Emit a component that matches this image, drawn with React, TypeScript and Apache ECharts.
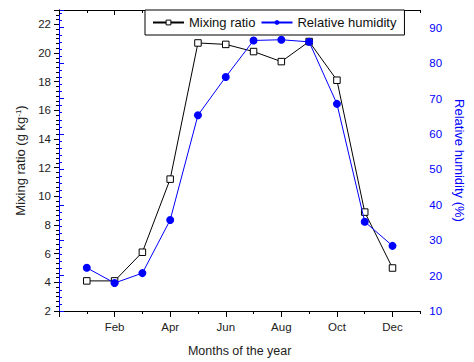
import React, { useEffect, useRef } from "react";
import * as echarts from "echarts";

const monthNames = ["Jan", "Feb", "Mar", "Apr", "May", "Jun", "Jul", "Aug", "Sep", "Oct", "Nov", "Dec"];
const monthNumbers = [1, 2, 3, 4, 5, 6, 7, 8, 9, 10, 11, 12];
const mixingRatio = [4.1, 4.1, 6.1, 11.2, 20.7, 20.6, 20.1, 19.4, 20.8, 18.1, 8.9, 5.0];
const relativeHumidity = [22.2, 17.9, 20.7, 35.7, 65.3, 76.1, 86.4, 86.6, 86.0, 68.5, 35.2, 28.4];

const FONT = "Liberation Sans";
const BLUE = "#0000ff";

export default function App() {
  const ref = useRef<HTMLDivElement>(null);
  useEffect(() => {
    document.body.style.margin = "0";
    if (!ref.current) return;
    const chart = echarts.init(ref.current, null, { renderer: "svg" });
    const base = { min: 0, max: 13, type: "value" as const };
    chart.setOption({
      animation: false,
      backgroundColor: "#ffffff",
      textStyle: { fontFamily: FONT },
      grid: { left: 59, right: 43, top: 10, bottom: 50, containLabel: false },
      legend: {
        left: 145,
        top: 10,
        itemWidth: 31,
        itemHeight: 6,
        itemGap: 5,
        padding: [5, 8, 5, 7],
        borderColor: "#000",
        borderWidth: 1,
        backgroundColor: "#fff",
        textStyle: { fontSize: 13, color: "#111", fontFamily: FONT, lineHeight: 15 },
        data: [
          { name: "Mixing ratio", itemStyle: { color: "#fff", borderColor: "#000", borderWidth: 1 } },
          { name: "Relative humidity" },
        ],
      },
      xAxis: [
        {
          ...base,
          position: "bottom",
          interval: 1,
          name: "Months of the year",
          nameLocation: "middle",
          nameGap: 33,
          nameTextStyle: { fontSize: 12.5, color: "#222", fontFamily: FONT },
          axisLine: { show: true, lineStyle: { color: "#000", width: 1 } },
          axisTick: { show: true, length: 6, customValues: [0, 2, 4, 6, 8, 10, 12], lineStyle: { color: "#000" } },
          axisLabel: {
            show: true,
            margin: 10,
            fontSize: 11.5,
            color: "#222",
            fontFamily: FONT,
            customValues: [2, 4, 6, 8, 10, 12],
            formatter: (v: number) => monthNames[Math.round(v) - 1] ?? "",
          },
          splitLine: { show: false },
        },
        {
          ...base,
          position: "bottom",
          interval: 1,
          axisLine: { show: false },
          axisTick: { show: true, length: 3, lineStyle: { color: "#000" } },
          axisLabel: { show: false },
          splitLine: { show: false },
        },
        {
          ...base,
          position: "top",
          interval: 1,
          axisLine: { show: true, lineStyle: { color: "#000", width: 1 } },
          axisTick: { show: true, inside: true, length: 5, customValues: [0, 2, 4, 6, 8, 10, 12], lineStyle: { color: "#000" } },
          axisLabel: { show: false },
          splitLine: { show: false },
        },
        {
          ...base,
          position: "top",
          interval: 1,
          axisLine: { show: false },
          axisTick: { show: true, inside: true, length: 3, lineStyle: { color: "#000" } },
          axisLabel: { show: false },
          splitLine: { show: false },
        },
      ],
      yAxis: [
        {
          type: "value",
          position: "left",
          min: 2,
          max: 23,
          interval: 2,
          name: "Mixing ratio (g kg{sup|-1})",
          nameLocation: "middle",
          nameGap: 28,
          nameTextStyle: {
            fontSize: 13,
            color: "#222",
            fontFamily: FONT,
            rich: { sup: { fontSize: 8, verticalAlign: "top", color: "#222", fontFamily: FONT, padding: [0, 0, 4, 0] } },
          },
          axisLine: { show: true, lineStyle: { color: "#000", width: 1 } },
          axisTick: { show: true, length: 5, lineStyle: { color: "#000" } },
          axisLabel: {
            margin: 8,
            fontSize: 11.5,
            color: "#222",
            fontFamily: FONT,
            formatter: (v: number) => (v > 22.5 ? "" : String(v)),
          },
          splitLine: { show: false },
        },
        {
          type: "value",
          position: "left",
          min: 2,
          max: 23,
          interval: 1 / 3,
          axisLine: { show: false },
          axisTick: { show: true, length: 3, lineStyle: { color: "#000" } },
          axisLabel: { show: false },
          splitLine: { show: false },
        },
        {
          type: "value",
          position: "right",
          min: 10,
          max: 95,
          interval: 10,
          name: "Relative humidity (%)",
          nameLocation: "middle",
          nameRotate: -90,
          nameGap: 31,
          nameTextStyle: { fontSize: 13, color: BLUE, fontFamily: FONT },
          axisLine: { show: true, lineStyle: { color: BLUE, width: 1 } },
          axisTick: { show: true, length: 5, lineStyle: { color: BLUE } },
          axisLabel: {
            margin: 9,
            fontSize: 11.5,
            color: BLUE,
            fontFamily: FONT,
            formatter: (v: number) => (v > 92 ? "" : String(v)),
          },
          splitLine: { show: false },
        },
        {
          type: "value",
          position: "right",
          min: 10,
          max: 95,
          interval: 2,
          axisLine: { show: false },
          axisTick: { show: true, length: 3, lineStyle: { color: BLUE } },
          axisLabel: { show: false },
          splitLine: { show: false },
        },
      ],
      series: [
        {
          name: "Mixing ratio",
          type: "line",
          xAxisIndex: 0,
          yAxisIndex: 0,
          data: monthNumbers.map((m, i) => [m, mixingRatio[i]]),
          symbol: "rect",
          symbolSize: 6.5,
          showAllSymbol: true,
          lineStyle: { color: "#000", width: 1 },
          itemStyle: { color: "#fff", borderColor: "#000", borderWidth: 1 },
          z: 2,
        },
        {
          name: "Relative humidity",
          type: "line",
          xAxisIndex: 0,
          yAxisIndex: 2,
          data: monthNumbers.map((m, i) => [m, relativeHumidity[i]]),
          symbol: "circle",
          symbolSize: 8,
          showAllSymbol: true,
          lineStyle: { color: BLUE, width: 1 },
          itemStyle: { color: BLUE, borderColor: BLUE, borderWidth: 0 },
          z: 3,
        },
      ],
    });
    return () => chart.dispose();
  }, []);
  return <div ref={ref} style={{ width: 474, height: 362 }} />;
}
